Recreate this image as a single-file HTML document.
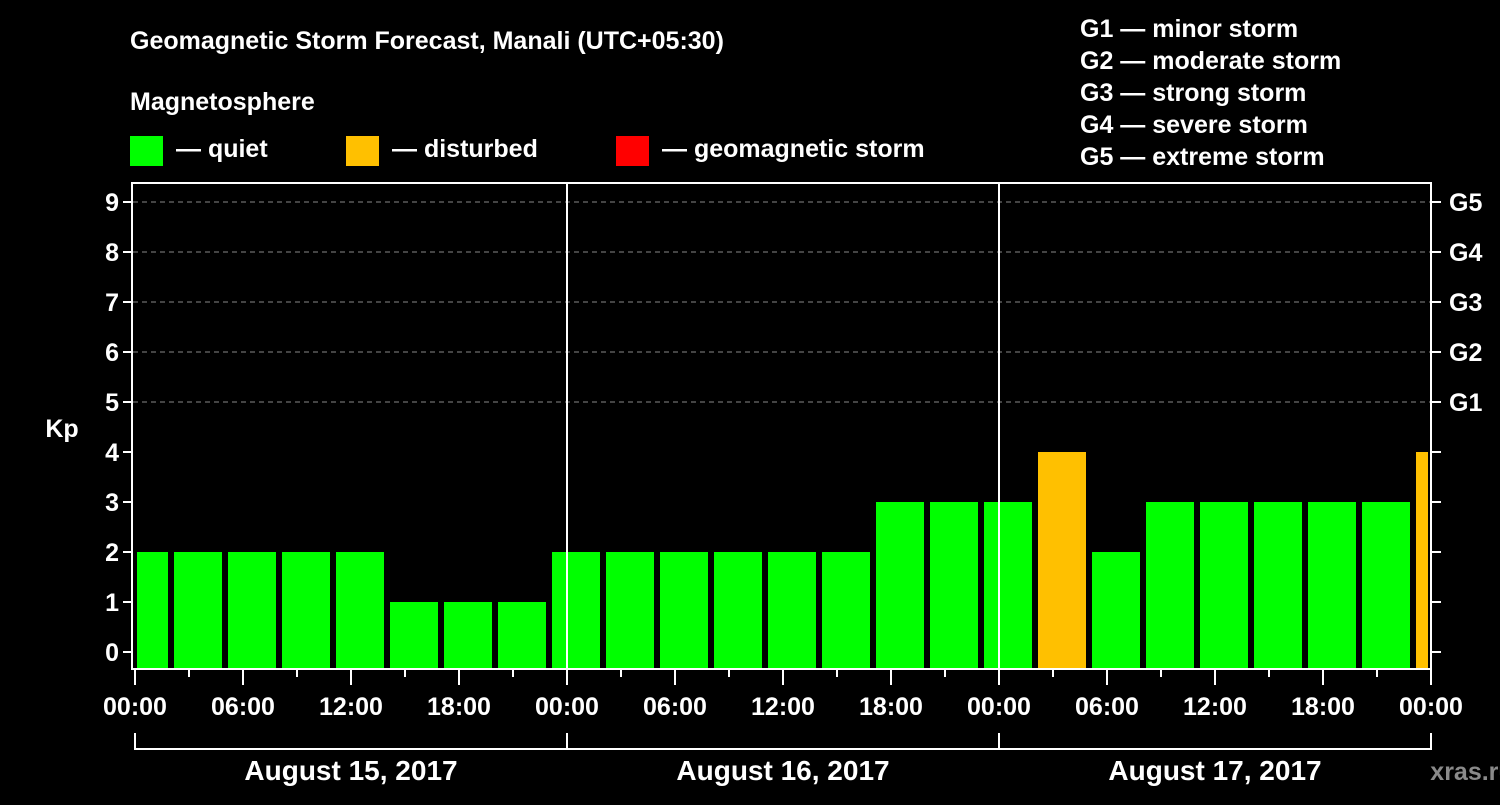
<!DOCTYPE html>
<html><head><meta charset="utf-8"><style>
body{margin:0;background:#000;width:1500px;height:800px;overflow:hidden;font-family:"Liberation Sans",sans-serif}
svg text{font-family:"Liberation Sans",sans-serif;font-weight:bold;fill:#fff}
</style></head><body>
<svg id="c" width="1500" height="800">
<text x="130" y="49" font-size="25">Geomagnetic Storm Forecast, Manali (UTC+05:30)</text>
<text x="130" y="110" font-size="25">Magnetosphere</text>
<g><rect x="130" y="136" width="33" height="30" fill="#00ff00"/><text x="176" y="157" font-size="25">— quiet</text></g>
<g><rect x="346" y="136" width="33" height="30" fill="#ffc000"/><text x="392" y="157" font-size="25">— disturbed</text></g>
<g><rect x="616" y="136" width="33" height="30" fill="#ff0000"/><text x="662" y="157" font-size="25">— geomagnetic storm</text></g>
<g font-size="25">
<text x="1080" y="37">G1 — minor storm</text>
<text x="1080" y="69">G2 — moderate storm</text>
<text x="1080" y="101">G3 — strong storm</text>
<text x="1080" y="133">G4 — severe storm</text>
<text x="1080" y="165">G5 — extreme storm</text>
</g>
<text x="62" y="437" font-size="25" text-anchor="middle">Kp</text>
<text x="1472" y="780" font-size="25" fill="#888" style="fill:#8a8a8a" text-anchor="middle">xras.ru</text>
<g id="plot"></g>
</svg>
<script>
const kpValues=[2,2,2,2,2,1,1,1,2,2,2,2,2,2,3,3,3,4,2,3,3,3,3,3,4];
const binStartHours=[-1,2,5,8,11,14,17,20,23,26,29,32,35,38,41,44,47,50,53,56,59,62,65,68,71];
const yTicks=[0,1,2,3,4,5,6,7,8,9];
const gLabels=["","","","","","G1","G2","G3","G4","G5"];
const xTickLabels=["00:00","06:00","12:00","18:00","00:00","06:00","12:00","18:00","00:00","06:00","12:00","18:00","00:00"];
const dayLabels=["August 15, 2017","August 16, 2017","August 17, 2017"];
const L=133,R=1431,T=183,B=669;
const x=h=>135+h*18;
const y=v=>652-v*50;
const ns="http://www.w3.org/2000/svg",P=document.getElementById('plot');
function mk(t,a){const e=document.createElementNS(ns,t);for(const k in a)e.setAttribute(k,a[k]);P.appendChild(e);return e;}
yTicks.forEach(v=>{
 if(v>=5){const g=mk('line',{x1:L,x2:R,y1:y(v),y2:y(v),stroke:'#888','stroke-dasharray':'5,4','stroke-width':1});
 
 }
 const t=mk('line',{x1:L-10,x2:L,y1:y(v),y2:y(v),stroke:'#fff','stroke-width':2});
 
 
 mk('line',{x1:R,x2:R+10,y1:y(v),y2:y(v),stroke:'#fff','stroke-width':2});
 const lb=mk('text',{x:L-14,y:y(v)+9,'font-size':25,'text-anchor':'end'});lb.textContent=v;
 
 
 if(gLabels[v]){const gl=mk('text',{x:R+18,y:y(v)+9,'font-size':25});gl.textContent=gLabels[v];
 
 }
});
kpValues.forEach((v,i)=>{
 const s=Math.max(0,binStartHours[i]),e=Math.min(72,binStartHours[i]+3);
 let x0=x(s)+(binStartHours[i]<0?2:3),x1=x(e)-(binStartHours[i]+3>72?3:3);
 const col=v>=5?'#ff0000':v>=4?'#ffc000':'#00ff00';
 const r=mk('rect',{x:x0,y:y(v),width:x1-x0,height:B-y(v),fill:col});
 
 
});
[24,48].forEach(h=>{const d=mk('line',{x1:x(h),x2:x(h),y1:T,y2:B,stroke:'#fff','stroke-width':2});
 
 });
const f=mk('rect',{x:L-1,y:T,width:R-L+1,height:B-T,fill:'none',stroke:'#fff','stroke-width':2});


for(let h=0;h<=72;h+=3){mk('line',{x1:x(h),x2:x(h),y1:B,y2:B+(h%6==0?16:8),stroke:'#fff','stroke-width':2});}
xTickLabels.forEach((l,i)=>{const t=mk('text',{x:x(i*6),y:715,'font-size':25,'text-anchor':'middle'});t.textContent=l;
 
 });
mk('path',{d:`M${x(0)} 733V749H${x(72)}V733M${x(24)} 733V749M${x(48)} 733V749`,stroke:'#fff','stroke-width':2,fill:'none'});
dayLabels.forEach((l,i)=>{const t=mk('text',{x:x(i*24+12),y:780,'font-size':28,'text-anchor':'middle'});t.textContent=l;
 
 });
</script>
</body></html>
